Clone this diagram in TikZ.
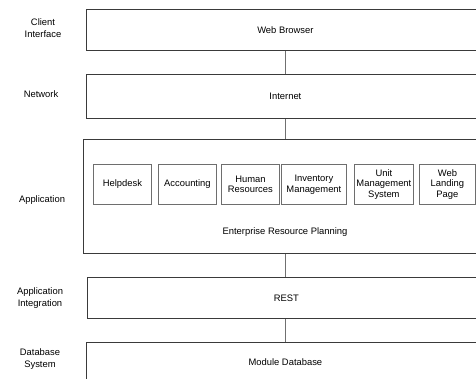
\documentclass[tikz,border=0pt]{standalone}
\usepackage{fontspec}
\setmainfont{Liberation Sans}
\usetikzlibrary{positioning}
\definecolor{layerline}{HTML}{3A3A3A}
\definecolor{modline}{HTML}{6E6E6E}
\definecolor{linkline}{HTML}{707070}

\begin{document}
\begin{tikzpicture}[
  x=1pt, y=-1pt,
  font=\fontsize{9.4}{10.8}\selectfont,
  layer/.style={draw=layerline, line width=.8pt, anchor=north west, minimum width=398pt, inner sep=0pt},
  module/.style={draw=modline, line width=.8pt, anchor=north west, align=center, minimum height=40pt, inner sep=0pt},
  tier/.style={align=center, inner sep=0pt, font=\fontsize{9.4}{12}\selectfont},
  link/.style={draw=linkline, line width=.8pt}
]
\useasboundingbox (0,0) rectangle (476,379);
\clip (0,0) rectangle (476,379);
% layers
\node[layer, minimum height=41pt] (browser) at (86,9) {Web Browser};
\node[layer, minimum height=44pt] (internet) at (86,74) {Internet};
\node[layer, minimum height=114pt] (erp) at (83,139) {};
\node (erptext) at (285,232) {Enterprise Resource Planning};
\node[layer, minimum height=41pt] (rest) at (87,277) {REST};
\node[layer, minimum height=40pt] (moduledb) at (86,342) {Module Database};
% modules
\node[module, minimum width=58pt] (helpdesk) at (93,164) {Helpdesk};
\node[module, minimum width=58pt] (accounting) at (158,164) {Accounting};
\node[module, minimum width=58pt] (hr) at (221,164) {Human\\Resources};
\node[module, minimum width=65pt] (inventory) at (281,164) {Inventory\\Management};
\node[module, minimum width=59pt] (unit) at (354,164) {Unit\\Management\\System};
\node[module, minimum width=56pt] (landing) at (419,164) {Web\\Landing\\Page};
% tier labels
\node[tier] (client) at (43,28) {Client\\Interface};
\node[tier] (network) at (41,94) {Network};
\node[tier] (application) at (42,200) {Application};
\node[tier] (integration) at (40,298) {Application\\Integration};
\node[tier] (database) at (40,359) {Database\\System};
% connectors
\coordinate (spine) at (285,0);
\draw[link] (browser.south -| spine) -- (internet.north -| spine);
\draw[link] (internet.south -| spine) -- (erp.north -| spine);
\draw[link] (erp.south -| spine) -- (rest.north -| spine);
\draw[link] (rest.south -| spine) -- (moduledb.north -| spine);
\end{tikzpicture}
\end{document}
